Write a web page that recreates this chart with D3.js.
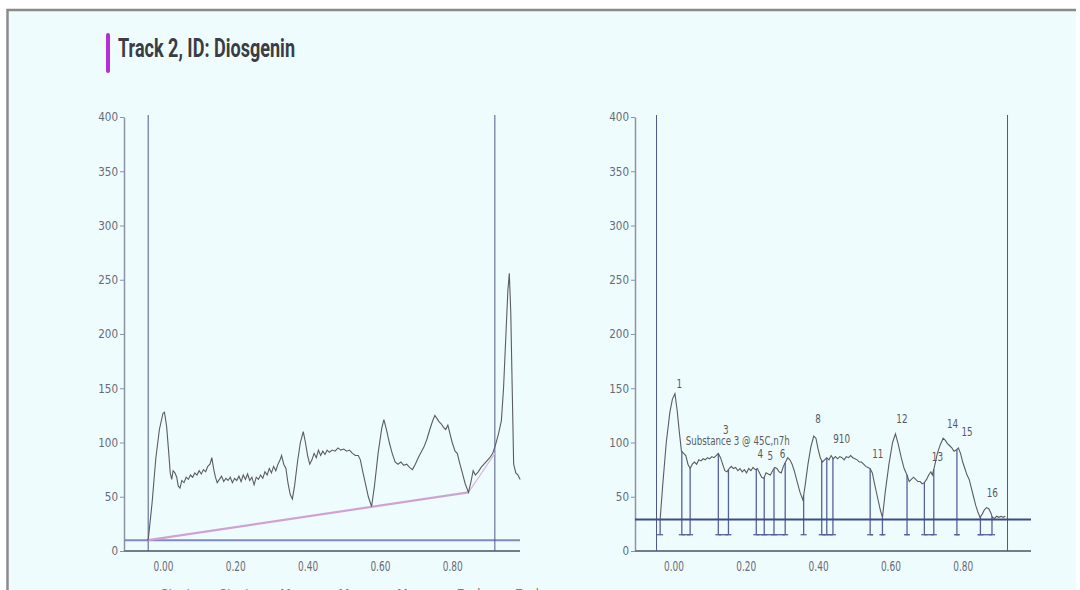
<!DOCTYPE html>
<html>
<head>
<meta charset="utf-8">
<title>Track 2, ID: Diosgenin</title>
<script src="https://cdn.jsdelivr.net/npm/d3@7"></script>
<style>
  html, body { margin: 0; padding: 0; background: #ffffff; }
  svg { display: block; }
  .tick text { font-family: "DejaVu Sans Condensed", "Liberation Sans Narrow", sans-serif; fill: #666b78; }
</style>
</head>
<body>
<svg id="chart" width="1080" height="590"></svg>
<script>
// ---- data ----
var titleText = "Track 2, ID: Diosgenin";
var yTicks = [0, 50, 100, 150, 200, 250, 300, 350, 400];
var xTicks = [0, 0.2, 0.4, 0.6, 0.8];

// left densitogram (Rf, AU)
var leftTrace = [
  [-0.041,10],[-0.03,45],[-0.02,85],[-0.01,112],[0.0,127],[0.004,128],[0.01,115],[0.016,90],
  [0.02,72],[0.024,66],[0.028,74],[0.033,72],[0.038,68],[0.042,60],[0.047,58],[0.052,65],
  [0.058,63],[0.064,68],[0.07,66],[0.076,70],[0.082,68],[0.088,72],[0.094,70],[0.1,74],
  [0.106,71],[0.112,75],[0.118,73],[0.124,78],[0.13,80],[0.135,86],[0.14,76],[0.145,68],
  [0.15,63],[0.156,66],[0.162,69],[0.168,64],[0.174,67],[0.18,65],[0.186,68],[0.192,63],
  [0.198,67],[0.204,65],[0.21,69],[0.216,64],[0.222,70],[0.228,66],[0.234,71],[0.24,65],
  [0.246,68],[0.252,61],[0.258,68],[0.264,66],[0.27,70],[0.276,67],[0.282,73],[0.288,70],
  [0.294,76],[0.3,72],[0.306,78],[0.312,74],[0.318,80],[0.324,84],[0.328,88],[0.334,80],
  [0.34,76],[0.346,62],[0.352,52],[0.358,48],[0.364,60],[0.372,82],[0.38,100],[0.388,110],
  [0.394,100],[0.4,88],[0.406,80],[0.412,84],[0.418,90],[0.424,86],[0.43,93],[0.436,88],
  [0.442,92],[0.448,89],[0.454,93],[0.46,91],[0.468,93],[0.476,92],[0.484,95],[0.492,93],
  [0.5,94],[0.508,92],[0.516,93],[0.524,90],[0.532,88],[0.54,88],[0.546,84],[0.552,74],
  [0.56,62],[0.568,50],[0.577,41],[0.585,60],[0.595,90],[0.605,113],[0.611,121],[0.618,112],
  [0.626,100],[0.634,90],[0.642,82],[0.65,80],[0.658,82],[0.666,79],[0.674,80],[0.682,77],
  [0.69,75],[0.698,80],[0.706,86],[0.714,91],[0.722,96],[0.73,103],[0.738,112],[0.746,120],
  [0.752,125],[0.758,122],[0.764,119],[0.77,117],[0.776,114],[0.782,112],[0.788,116],[0.794,108],
  [0.8,100],[0.808,92],[0.814,90],[0.82,82],[0.828,72],[0.836,62],[0.845,54],[0.852,64],
  [0.858,74],[0.864,70],[0.872,73],[0.88,77],[0.888,80],[0.896,83],[0.904,86],[0.912,90],
  [0.92,98],[0.928,108],[0.936,120],[0.942,150],[0.948,195],[0.954,240],[0.958,256],[0.962,220],
  [0.966,150],[0.97,80],[0.976,72],[0.982,70],[0.988,66]
];
var leftBaseline = [[-0.041,10],[0.845,54],[0.918,90]];
var leftLimits = [-0.041, 0.918];
var leftHLine = 10;

// right densitogram with integrated peaks
var rightTrace = [
  [-0.037,29],[-0.03,60],[-0.02,100],[-0.01,128],[-0.003,140],[0.004,145],[0.01,130],[0.016,110],
  [0.022,92],[0.028,90],[0.034,88],[0.04,80],[0.046,76],[0.052,80],[0.058,82],[0.064,80],
  [0.07,84],[0.076,83],[0.082,85],[0.088,84],[0.094,86],[0.1,85],[0.106,87],[0.112,86],
  [0.118,88],[0.124,90],[0.13,86],[0.136,80],[0.142,74],[0.148,73],[0.154,76],[0.16,78],
  [0.166,76],[0.172,77],[0.178,74],[0.184,76],[0.19,73],[0.196,75],[0.202,72],[0.208,76],
  [0.214,74],[0.22,77],[0.226,75],[0.232,76],[0.238,72],[0.244,68],[0.25,67],[0.256,72],
  [0.262,71],[0.268,70],[0.274,74],[0.28,77],[0.286,76],[0.292,73],[0.298,72],[0.304,78],
  [0.31,82],[0.316,86],[0.322,84],[0.328,80],[0.334,74],[0.342,64],[0.35,54],[0.358,47],
  [0.364,60],[0.372,80],[0.38,96],[0.388,106],[0.394,104],[0.4,94],[0.406,86],[0.412,82],
  [0.418,84],[0.424,86],[0.43,84],[0.436,88],[0.442,85],[0.448,87],[0.454,85],[0.46,87],
  [0.466,86],[0.472,84],[0.478,87],[0.484,86],[0.49,88],[0.496,86],[0.502,85],[0.508,84],
  [0.514,82],[0.52,82],[0.526,80],[0.532,78],[0.538,77],[0.544,76],[0.55,72],[0.556,62],
  [0.564,50],[0.572,38],[0.578,31],[0.586,55],[0.596,80],[0.606,100],[0.614,108],[0.622,98],
  [0.63,86],[0.638,76],[0.646,70],[0.652,64],[0.658,66],[0.664,68],[0.67,66],[0.676,64],
  [0.682,64],[0.688,62],[0.694,63],[0.7,66],[0.706,70],[0.712,73],[0.716,70],[0.722,78],
  [0.73,90],[0.738,98],[0.746,104],[0.752,102],[0.758,99],[0.764,97],[0.77,95],[0.776,92],
  [0.782,93],[0.788,95],[0.794,90],[0.8,82],[0.806,76],[0.812,70],[0.818,66],[0.824,58],
  [0.83,50],[0.836,42],[0.842,36],[0.848,31],[0.854,34],[0.86,38],[0.866,40],[0.872,39],
  [0.878,35],[0.882,31],[0.888,30],[0.894,32],[0.9,31],[0.906,32],[0.912,31],[0.918,32]
];
var rightLimits = [-0.047, 0.924];
var rightHLine = 29;
var peakFloor = 15;
var peakBounds = [-0.037, 0.023, 0.046, 0.124, 0.152, 0.229, 0.251, 0.278, 0.309, 0.36,
                  0.41, 0.424, 0.441, 0.544, 0.578, 0.646, 0.694, 0.72, 0.784, 0.849, 0.881];
var floorSpans = [[0.023,0.046],[0.124,0.152],[0.229,0.309],[0.41,0.441],[0.544,0.552],
                  [0.574,0.582],[0.642,0.65],[0.694,0.72],[0.78,0.79],[0.843,0.881]];
var peakLabels = [
  {t:"1", x:0.016, y:150}, {t:"3", x:0.145, y:108}, {t:"4", x:0.24, y:86}, {t:"5", x:0.268, y:84},
  {t:"6", x:0.302, y:86}, {t:"8", x:0.4, y:118}, {t:"910", x:0.465, y:100}, {t:"11", x:0.565, y:86},
  {t:"12", x:0.632, y:118}, {t:"13", x:0.73, y:83}, {t:"14", x:0.772, y:113}, {t:"15", x:0.812, y:106},
  {t:"16", x:0.882, y:50}
];
var substanceNote = {t:"Substance 3 @ 45C,n7h", x:0.034, y:98};
var footWords = ["Start", "Start", "Max", "Max", "Max", "End", "End"];

// ---- drawing ----
var svg = d3.select("#chart");
var condensed = '"DejaVu Sans Condensed", "Liberation Sans Narrow", sans-serif';

// panel: fill plus top and left frame only
svg.append("rect").attr("x", 7).attr("y", 9).attr("width", 1069).attr("height", 600)
  .attr("fill", "#effcfd");
svg.append("path").attr("d", "M7.5,600V10H1076")
  .attr("fill", "none").attr("stroke", "#8a8a8a").attr("stroke-width", 2.5);

svg.append("rect").attr("x", 106).attr("y", 33).attr("width", 4).attr("height", 40)
  .attr("rx", 2).attr("fill", "#b52fd6");
svg.append("text").attr("x", 118).attr("y", 57)
  .attr("font-family", "Roboto, sans-serif").attr("font-weight", "bold").attr("font-size", 25)
  .attr("fill", "#3a3d44").attr("textLength", 177).attr("lengthAdjust", "spacingAndGlyphs")
  .text(titleText);

var y = d3.scaleLinear().domain([0, 400]).range([551, 117]);

function drawPanel(x0, axisLeftX, axisRightX) {
  var x = d3.scaleLinear().domain([0, 1]).range([x0, x0 + 361.5]);
  var g = svg.append("g");

  var ya = g.append("g").attr("transform", "translate(" + axisLeftX + ",0)")
    .call(d3.axisLeft(y).tickValues(yTicks).tickSize(4).tickSizeOuter(0).tickPadding(2));
  ya.select(".domain").attr("stroke", "#8a92a6").attr("stroke-width", 1.5);
  ya.selectAll(".tick line").attr("stroke", "#8a92a6");
  ya.selectAll(".tick text").attr("font-size", 12)
    .attr("textLength", function(d) { return String(d).length * 6.6; })
    .attr("lengthAdjust", "spacingAndGlyphs");

  var xa = g.append("g").attr("transform", "translate(0,551)")
    .call(d3.axisBottom(x).tickValues(xTicks).tickSize(0).tickPadding(10).tickFormat(d3.format(".2f")));
  xa.select(".domain").remove();
  xa.selectAll(".tick text").attr("font-size", 14).attr("textLength", 20)
    .attr("lengthAdjust", "spacingAndGlyphs");
  g.append("line").attr("x1", axisLeftX).attr("x2", axisRightX).attr("y1", 551).attr("y2", 551)
    .attr("stroke", "#747c8c").attr("stroke-width", 2);
  return {g: g, x: x};
}

var line = function(x) {
  return d3.line().x(function(d) { return x(d[0]); }).y(function(d) { return y(d[1]); });
};

// left panel
var L = drawPanel(163, 124, 520);
L.g.append("line").attr("x1", 124).attr("x2", 520).attr("y1", y(leftHLine)).attr("y2", y(leftHLine))
  .attr("stroke", "#8088c0").attr("stroke-width", 2);
L.g.selectAll(".lim").data(leftLimits).enter().append("line")
  .attr("x1", function(d) { return L.x(d); }).attr("x2", function(d) { return L.x(d); })
  .attr("y1", 115).attr("y2", 551).attr("stroke", "#4d5890").attr("stroke-width", 1);
L.g.append("path").datum(leftBaseline.slice(0, 2)).attr("d", line(L.x))
  .attr("fill", "none").attr("stroke", "#cfa2d6").attr("stroke-width", 2.2);
L.g.append("path").datum(leftBaseline.slice(1)).attr("d", line(L.x))
  .attr("fill", "none").attr("stroke", "#d8b8e0").attr("stroke-width", 1.2);
L.g.append("path").datum(leftTrace).attr("d", line(L.x))
  .attr("fill", "none").attr("stroke", "#5a5c62").attr("stroke-width", 1.1);

// right panel
var R = drawPanel(673.5, 635, 1031);
R.g.selectAll(".lim").data(rightLimits).enter().append("line")
  .attr("x1", function(d) { return R.x(d); }).attr("x2", function(d) { return R.x(d); })
  .attr("y1", 115).attr("y2", 551).attr("stroke", "#4d5890").attr("stroke-width", 1);

function traceAt(v) {
  var i = d3.bisector(function(d) { return d[0]; }).left(rightTrace, v);
  if (i <= 0) return rightTrace[0][1];
  if (i >= rightTrace.length) return rightTrace[rightTrace.length - 1][1];
  var a = rightTrace[i - 1], b = rightTrace[i];
  return a[1] + (b[1] - a[1]) * (v - a[0]) / (b[0] - a[0]);
}
R.g.selectAll(".pb").data(peakBounds).enter().append("line")
  .attr("x1", function(d) { return R.x(d); }).attr("x2", function(d) { return R.x(d); })
  .attr("y1", function(d) { return y(traceAt(d)); }).attr("y2", y(peakFloor))
  .attr("stroke", "#55609e").attr("stroke-width", 1.3);
R.g.selectAll(".pt").data(peakBounds).enter().append("line")
  .attr("x1", function(d) { return R.x(d) - 3; }).attr("x2", function(d) { return R.x(d) + 3; })
  .attr("y1", y(peakFloor)).attr("y2", y(peakFloor))
  .attr("stroke", "#55609e").attr("stroke-width", 1.3);
R.g.selectAll(".fs").data(floorSpans).enter().append("line")
  .attr("x1", function(d) { return R.x(d[0]); }).attr("x2", function(d) { return R.x(d[1]); })
  .attr("y1", y(peakFloor)).attr("y2", y(peakFloor))
  .attr("stroke", "#55609e").attr("stroke-width", 1.3);
R.g.append("line").attr("x1", 635).attr("x2", 1031).attr("y1", y(rightHLine)).attr("y2", y(rightHLine))
  .attr("stroke", "#3e4a8a").attr("stroke-width", 2);
R.g.append("path").datum(rightTrace).attr("d", line(R.x))
  .attr("fill", "none").attr("stroke", "#5a5c62").attr("stroke-width", 1.1);

R.g.append("text").attr("x", R.x(substanceNote.x)).attr("y", y(substanceNote.y))
  .attr("font-family", condensed).attr("font-size", 12).attr("fill", "#5a5c62")
  .attr("textLength", 104).attr("lengthAdjust", "spacingAndGlyphs").text(substanceNote.t);
R.g.selectAll(".pl").data(peakLabels).enter().append("text")
  .attr("x", function(d) { return R.x(d.x); }).attr("y", function(d) { return y(d.y); })
  .attr("text-anchor", "middle").attr("font-family", condensed).attr("font-size", 13)
  .attr("fill", "#55585e")
  .attr("textLength", function(d) { return d.t.length * 5.6; })
  .attr("lengthAdjust", "spacingAndGlyphs")
  .text(function(d) { return d.t; });

// footer words, cut off by the bottom edge as in the source
svg.selectAll(".fw").data(footWords).enter().append("text")
  .attr("x", function(d, i) { return 176 + i * 58.5; }).attr("y", 599)
  .attr("text-anchor", "middle").attr("font-family", condensed).attr("font-size", 14)
  .attr("fill", "#7a7e88").text(function(d) { return d; });
</script>
</body>
</html>
